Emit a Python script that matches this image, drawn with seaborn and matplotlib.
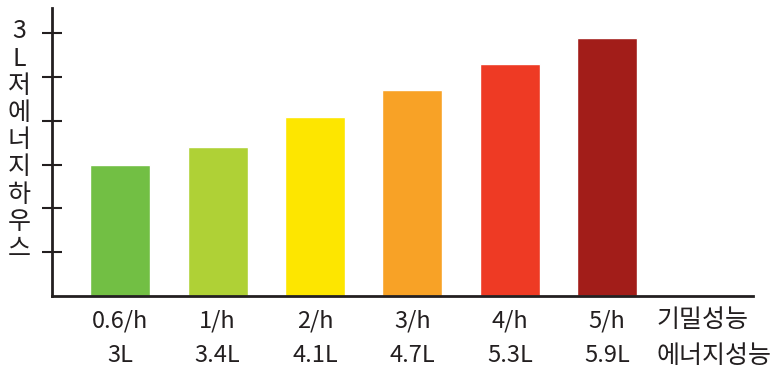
import matplotlib
matplotlib.use('Agg')
import pandas as pd
import seaborn as sns
import matplotlib.pyplot as plt

# 데이터
기밀 = ['0.6/h', '1/h', '2/h', '3/h', '4/h', '5/h']
에너지 = [3.0, 3.4, 4.1, 4.7, 5.3, 5.9]
에너지_라벨 = ['3L', '3.4L', '4.1L', '4.7L', '5.3L', '5.9L']
색상 = ['#72bf44', '#afd136', '#fde600', '#f8a226', '#ee3a24', '#a21d19']
y_ticks = [1, 2, 3, 4, 5, 6]

sns.set_style('white')
plt.rcParams['font.family'] = ['Noto Sans CJK KR', 'DejaVu Sans']
ink = '#231f20'

df = pd.DataFrame({'기밀성능': 기밀, '에너지': 에너지})

fig = plt.figure(figsize=(7.79, 3.74), dpi=100)
ax = fig.add_axes([0.0668, 0.2086, 0.9, 0.77])
sns.barplot(data=df, x='기밀성능', y='에너지', hue='기밀성능', palette=색상,
            legend=False, width=0.615, saturation=1, ax=ax)

ax.set_xlim(-0.7, 6.5)
ax.set_ylim(0, 6.58)
ax.set_yticks(y_ticks)
ax.set_yticklabels([])
ax.tick_params(axis='y', left=True, direction='inout', length=15, width=1.5, color=ink)
ax.tick_params(axis='x', length=0, pad=10)
ax.set_xticks(range(len(기밀)))
ax.set_xticklabels([f'{a}\n{b}' for a, b in zip(기밀, 에너지_라벨)],
                   fontsize=17, color=ink, linespacing=1.6)
for s in ['top', 'right']:
    ax.spines[s].set_visible(False)
for s in ['left', 'bottom']:
    ax.spines[s].set_color(ink)
    ax.spines[s].set_linewidth(2)
ax.set_xlabel('')
ax.set_ylabel('')

fig.text(0.843, 0.18, '기밀성능\n에너지성능', fontsize=18, color=ink,
         ha='left', va='top', linespacing=1.5)
fig.text(0.025, 0.625, '\n'.join('3L저에너지하우스'), fontsize=18, color=ink,
         ha='center', va='center', linespacing=1.06)

fig.savefig('out.png', dpi=100)
